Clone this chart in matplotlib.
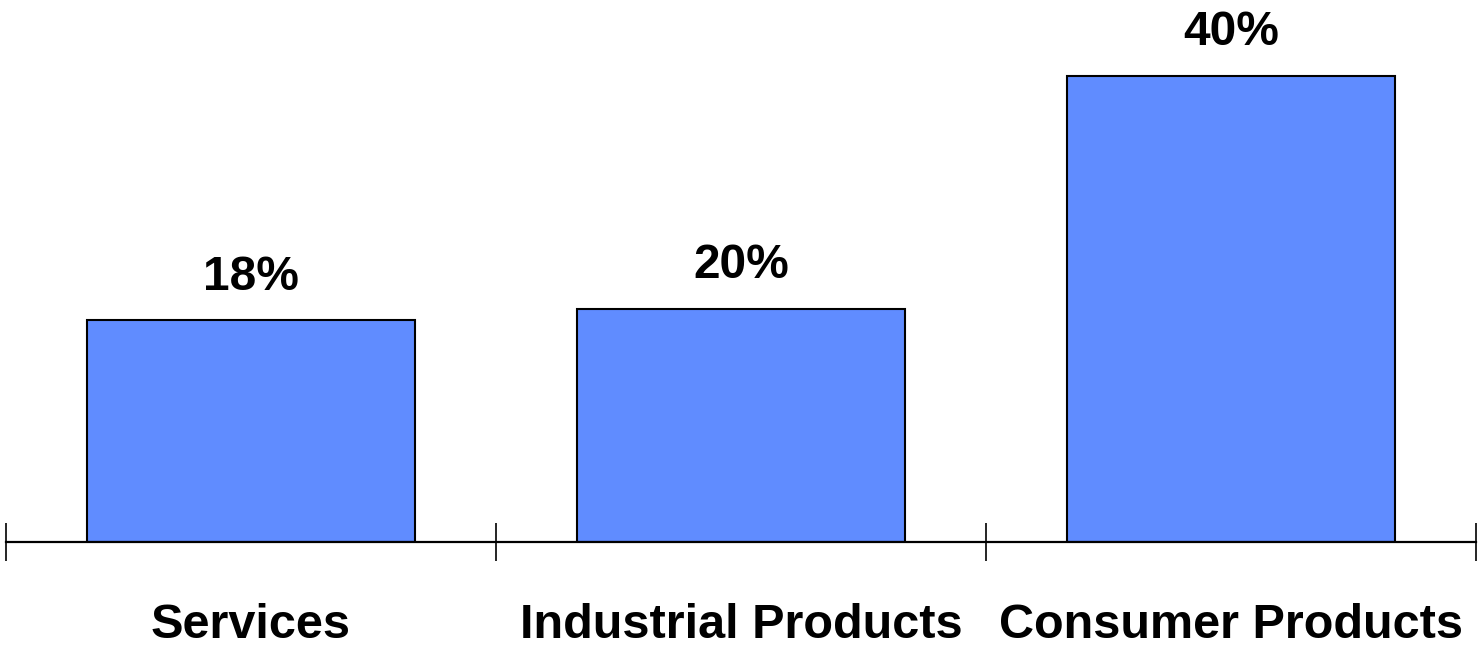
import matplotlib
matplotlib.use("Agg")
import matplotlib.pyplot as plt

categories = ["Services", "Industrial Products", "Consumer Products"]
values = [19.05, 20.0, 40.0]
value_labels = ["18%", "20%", "40%"]

plt.rcParams['font.family'] = ['Liberation Sans', 'DejaVu Sans']

W, H = 1479, 647
fig = plt.figure(figsize=(W / 100, H / 100), dpi=100)
ax = fig.add_axes([6 / W, 105 / H, 1470 / W, 542 / H])

x = list(range(len(categories)))
bars = ax.bar(x, values, width=0.671, color="#608CFF", edgecolor="black", linewidth=1.5, zorder=2)

for xi, v, lab in zip(x, values, value_labels):
    ax.annotate(lab, (xi, v), xytext=(0, 22), textcoords="offset points",
                ha="center", va="baseline", fontsize=34.5, fontweight="bold")

ax.set_xlim(-0.5, 2.5)
ax.set_ylim(0, 40 * 542 / 466)

for s in ["top", "right", "left"]:
    ax.spines[s].set_visible(False)
ax.spines["bottom"].set_linewidth(1.6)
ax.set_yticks([])

ax.set_xticks(x)
ax.set_xticklabels(categories, fontsize=35, fontweight="bold")
ax.tick_params(axis="x", which="major", length=0, pad=44)
ax.set_xticks([-0.5, 0.5, 1.5, 2.5], minor=True)
ax.tick_params(axis="x", which="minor", direction="inout", length=27, width=1.2)

fig.savefig("out.png", dpi=100)
